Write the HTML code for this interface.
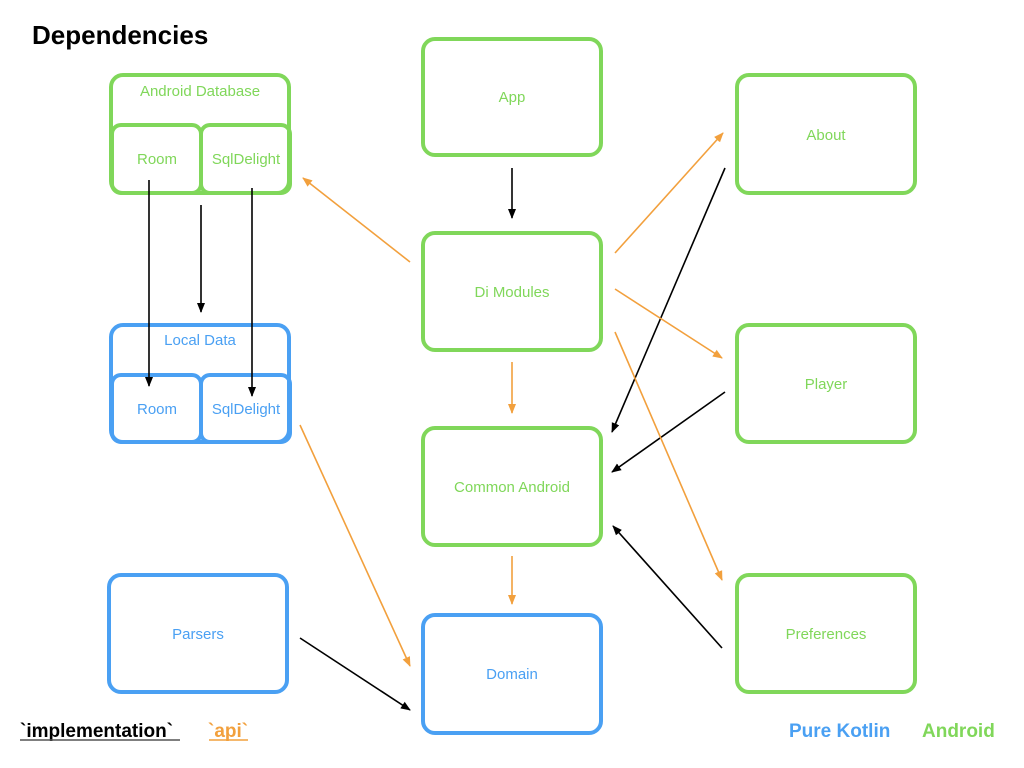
<!DOCTYPE html>
<html><head><meta charset="utf-8"><style>
html,body{margin:0;padding:0;background:#fff}
svg{display:block}
text{font-family:"Liberation Sans",sans-serif}
</style></head><body>
<svg width="1024" height="768" viewBox="0 0 1024 768" xmlns="http://www.w3.org/2000/svg">
<defs>
<marker id="ak" markerWidth="10" markerHeight="10" refX="9" refY="5" orient="auto" markerUnits="userSpaceOnUse"><path d="M0,1 L10,5 L0,9 z" fill="#000"/></marker>
<marker id="ao" markerWidth="10" markerHeight="10" refX="9" refY="5" orient="auto" markerUnits="userSpaceOnUse"><path d="M0,1 L10,5 L0,9 z" fill="#f2a03d"/></marker>
</defs>
<text x="32" y="44" font-size="26" font-weight="bold" fill="#000">Dependencies</text>

<g fill="none" stroke-width="4">
<g stroke="#80d75a">
<rect x="111" y="75" width="178" height="118" rx="12"/>
<rect x="112" y="125" width="89" height="68" rx="9"/>
<rect x="201" y="125" width="89" height="68" rx="9"/>
<rect x="423" y="39" width="178" height="116" rx="12"/>
<rect x="737" y="75" width="178" height="118" rx="12"/>
<rect x="423" y="233" width="178" height="117" rx="12"/>
<rect x="737" y="325" width="178" height="117" rx="12"/>
<rect x="423" y="428" width="178" height="117" rx="12"/>
<rect x="737" y="575" width="178" height="117" rx="12"/>
</g>
<g stroke="#4aa0f3">
<rect x="111" y="325" width="178" height="117" rx="12"/>
<rect x="112" y="375" width="89" height="67" rx="9"/>
<rect x="201" y="375" width="89" height="67" rx="9"/>
<rect x="109" y="575" width="178" height="117" rx="12"/>
<rect x="423" y="615" width="178" height="118" rx="12"/>
</g>
</g>

<g font-size="15" text-anchor="middle" fill="#80d75a">
<text x="200" y="96">Android Database</text>
<text x="157" y="164">Room</text>
<text x="246" y="164">SqlDelight</text>
<text x="512" y="102">App</text>
<text x="826" y="140">About</text>
<text x="512" y="297">Di Modules</text>
<text x="826" y="389">Player</text>
<text x="512" y="492">Common Android</text>
<text x="826" y="639">Preferences</text>
</g>
<g font-size="15" text-anchor="middle" fill="#4aa0f3">
<text x="200" y="345">Local Data</text>
<text x="157" y="414">Room</text>
<text x="246" y="414">SqlDelight</text>
<text x="198" y="639">Parsers</text>
<text x="512" y="679">Domain</text>
</g>

<g stroke="#000" stroke-width="1.6" marker-end="url(#ak)">
<line x1="512" y1="168" x2="512" y2="218"/>
<line x1="149" y1="180" x2="149" y2="386"/>
<line x1="201" y1="205" x2="201" y2="312"/>
<line x1="252" y1="188" x2="252" y2="396"/>
<line x1="725" y1="168" x2="612" y2="432"/>
<line x1="725" y1="392" x2="612" y2="472"/>
<line x1="722" y1="648" x2="613" y2="526"/>
<line x1="300" y1="638" x2="410" y2="710"/>
</g>
<g stroke="#f2a03d" stroke-width="1.6" marker-end="url(#ao)">
<line x1="410" y1="262" x2="303" y2="178"/>
<line x1="615" y1="253" x2="723" y2="133"/>
<line x1="615" y1="289" x2="722" y2="358"/>
<line x1="615" y1="332" x2="722" y2="580"/>
<line x1="512" y1="362" x2="512" y2="413"/>
<line x1="512" y1="556" x2="512" y2="604"/>
<line x1="300" y1="425" x2="410" y2="666"/>
</g>

<g font-size="19" font-weight="bold">
<text x="20" y="737" fill="#000">`implementation`</text>
<line x1="20" y1="740" x2="180" y2="740" stroke="#555" stroke-width="1.5"/>
<text x="208" y="737" fill="#f2a03d">`api`</text>
<line x1="209" y1="740" x2="248" y2="740" stroke="#f2a03d" stroke-width="1.5"/>
<text x="789" y="737" fill="#4aa0f3">Pure Kotlin</text>
<text x="922" y="737" fill="#80d75a">Android</text>
</g>
</svg>
</body></html>
